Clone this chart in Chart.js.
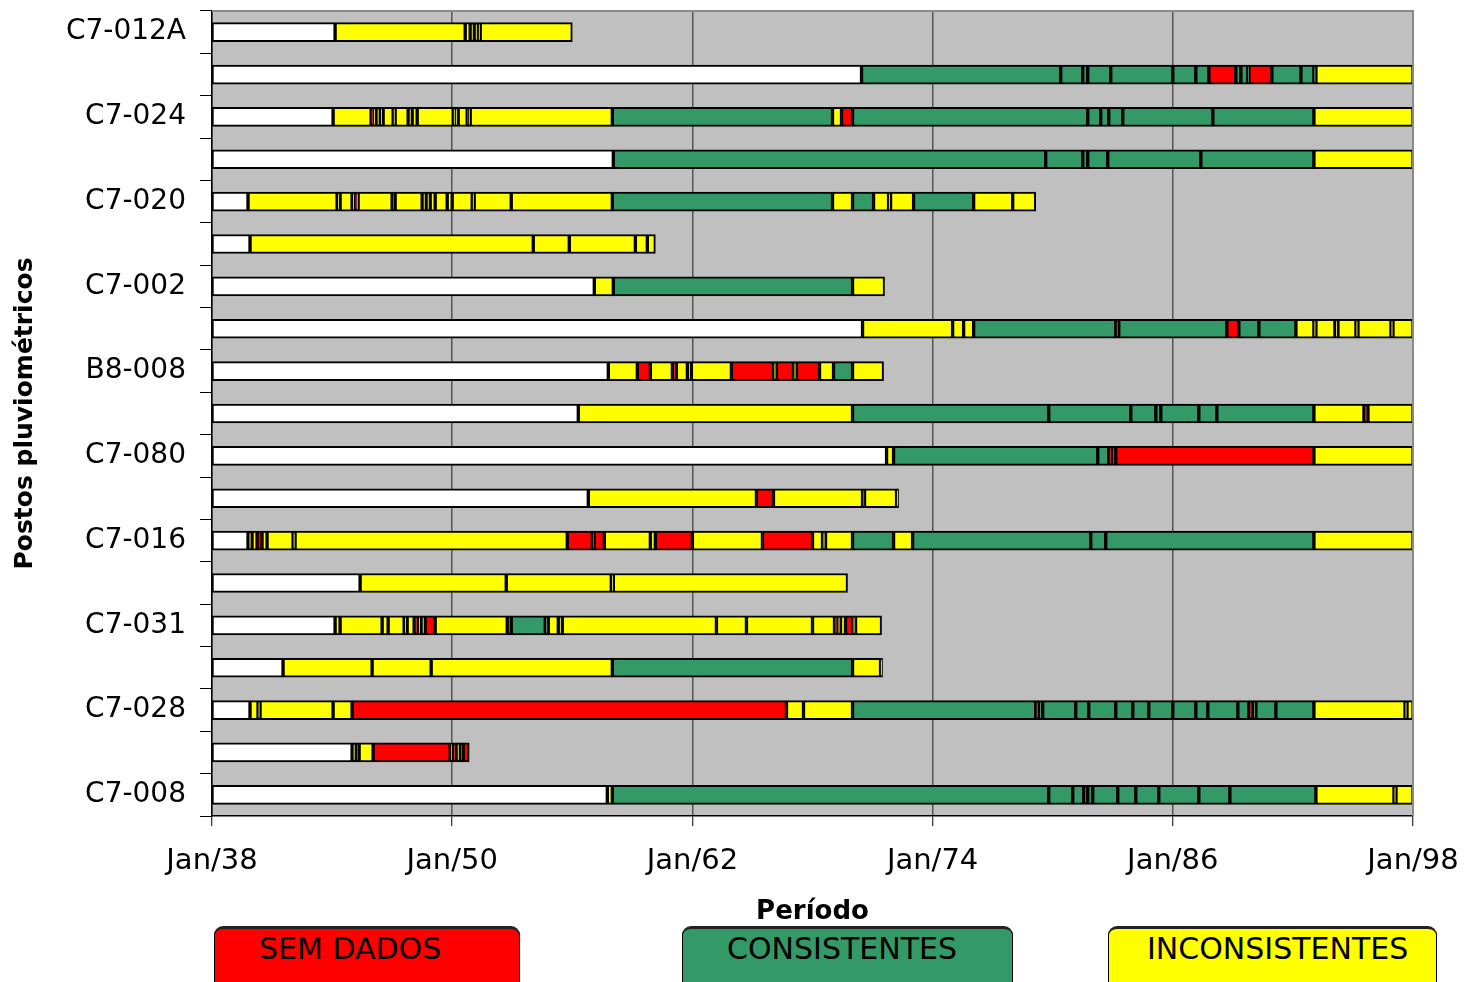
<!DOCTYPE html>
<html><head><meta charset="utf-8">
<script src="https://cdn.jsdelivr.net/npm/chart.js@4.4.0/dist/chart.umd.min.js"></script>
<style>
html,body{margin:0;padding:0;background:#fff;width:1465px;height:982px;overflow:hidden;}
#wrap{position:relative;width:1465px;height:982px;}
canvas{position:absolute;left:0;top:0;}
.lg{position:absolute;top:926px;height:80px;border:1.5px solid #000;border-top:3px solid #222;border-radius:9px;box-sizing:border-box;font-family:"DejaVu Sans";font-size:30px;color:#000;line-height:1;padding-top:5px;white-space:nowrap;}
</style></head>
<body><div id="wrap"><canvas id="c" width="1465" height="982"></canvas>
<div class="lg" style="left:214px;width:306px;background:#FF0000;padding-left:44px">SEM DADOS</div>
<div class="lg" style="left:682px;width:331px;background:#339966;padding-left:44px">CONSISTENTES</div>
<div class="lg" style="left:1108px;width:329px;background:#FFFF00;padding-left:38px">INCONSISTENTES</div>
</div>
<script>
// ---- categories / tick labels ----
const stationLabels = ['C7-012A','','C7-024','','C7-020','','C7-002','','B8-008','','C7-080','','C7-016','','C7-031','','C7-028','','C7-008'];
const xTickYears = [1938,1950,1962,1974,1986,1998];
const xTickLabels = ['Jan/38','Jan/50','Jan/62','Jan/74','Jan/86','Jan/98'];
// codes: B = sem registro (branco), S = sem dados, C = consistentes, I = inconsistentes
const row01Limits = [1938,1944.15,1950.65,1950.9,1951.1,1951.3,1951.4,1956.0];
const row01Types = 'BIIIIII';
const row02Limits = [1938,1970.45,1980.4,1981.5,1981.75,1982.9,1986.0,1987.15,1987.8,1989.15,1989.4,1989.75,1989.8,1990.95,1992.4,1993.05,1993.15,1998];
const row02Types = 'BCCCCCCCSCCCSCCCI';
const row03Limits = [1938,1944.05,1945.95,1946.05,1946.2,1946.4,1946.55,1947.05,1947.15,1947.8,1948.0,1948.25,1950.05,1950.15,1950.3,1950.75,1950.8,1950.9,1958.0,1969.0,1969.45,1970.0,1981.75,1982.4,1982.8,1983.5,1988.0,1993.05,1998];
const row03Types = 'BISIIIIIIIIIIIISIICISCCCCCCI';
const row04Limits = [1938,1958.05,1979.65,1981.5,1981.75,1982.75,1987.4,1993.05,1998];
const row04Types = 'BCCCCCCI';
const row05Limits = [1938,1939.8,1944.25,1944.4,1945.0,1945.15,1945.25,1945.3,1947.0,1947.15,1948.5,1948.7,1948.9,1949.15,1949.75,1950.0,1951.0,1951.1,1952.95,1958.0,1969.0,1970.0,1971.05,1971.8,1971.9,1973.05,1976.05,1978.0,1979.15];
const row05Types = 'BIIIISIISIIIIIIIIIICICIIICII';
const row06Limits = [1938,1939.9,1954.05,1955.85,1959.15,1959.75,1960.15];
const row06Types = 'BIIIII';
const row07Limits = [1938,1957.1,1958.05,1970.0,1971.6];
const row07Types = 'BICI';
const row08Limits = [1938,1970.5,1975.0,1975.55,1976.05,1983.15,1983.3,1988.7,1989.3,1990.3,1992.15,1993.05,1993.15,1994.1,1994.25,1995.15,1995.25,1996.9,1997.0,1998];
const row08Types = 'BIIICSCSCCIIIIIIIII';
const row09Limits = [1938,1957.8,1959.25,1959.9,1961.0,1961.2,1961.75,1961.95,1963.95,1966.05,1966.2,1967.05,1967.2,1968.35,1969.05,1970.0,1971.55];
const row09Types = 'BISISIIISISISICI';
const row10Limits = [1938,1956.3,1970.0,1979.8,1983.9,1985.15,1985.4,1987.3,1988.2,1993.05,1995.55,1995.75,1998];
const row10Types = 'BICCCCCCCISI';
const row11Limits = [1938,1971.7,1972.05,1982.25,1982.8,1982.95,1983.15,1993.05,1998];
const row11Types = 'BICCSSSI';
const row12Limits = [1938,1956.8,1965.2,1966.05,1970.5,1970.6,1972.2,1972.3];
const row12Types = 'BISISII';
const row13Limits = [1938,1939.8,1940.0,1940.25,1940.5,1940.75,1942.05,1942.15,1955.75,1957.0,1957.1,1957.6,1959.9,1960.15,1962.0,1965.5,1968.0,1968.5,1968.65,1970.0,1972.05,1973.0,1981.9,1982.65,1993.05,1998];
const row13Types = 'BIISIIIISSSIISISIIICICCCI';
const row14Limits = [1938,1945.4,1952.7,1957.95,1958.05,1969.75];
const row14Types = 'BIIII';
const row15Limits = [1938,1944.15,1944.4,1946.5,1946.8,1947.6,1947.75,1948.1,1948.3,1948.45,1948.65,1949.15,1952.75,1952.95,1954.65,1954.8,1955.3,1955.5,1963.2,1964.7,1968.0,1969.1,1969.25,1969.4,1969.65,1970.0,1970.15,1971.45];
const row15Types = 'BIIIIIISIISISCCIIIIIISIISII';
const row16Limits = [1938,1941.55,1946.0,1948.95,1958.0,1970.0,1971.4,1971.5];
const row16Types = 'BIIICII';
const row17Limits = [1938,1939.9,1940.3,1940.4,1944.05,1945.0,1966.7,1967.55,1970.0,1979.15,1979.3,1979.5,1981.15,1981.8,1983.15,1984.0,1984.8,1986.0,1987.15,1987.75,1989.25,1989.8,1990.0,1990.15,1991.15,1993.05,1997.6,1997.7,1998];
const row17Types = 'BIIIISIICSCCCCCCCCCCCSCCCIII';
const row18Limits = [1938,1945.0,1945.2,1945.35,1946.05,1949.9,1950.05,1950.2,1950.4,1950.55,1950.85];
const row18Types = 'BISISISISS';
const row19Limits = [1938,1957.75,1958.0,1979.8,1981.0,1981.55,1981.75,1982.0,1983.25,1984.15,1985.3,1987.3,1988.85,1993.15,1997.05,1997.15,1998];
const row19Types = 'BICCCSCCCCCCCIII';

const rowLimits = [row01Limits,row02Limits,row03Limits,row04Limits,row05Limits,row06Limits,row07Limits,row08Limits,row09Limits,row10Limits,row11Limits,row12Limits,row13Limits,row14Limits,row15Limits,row16Limits,row17Limits,row18Limits,row19Limits];
const rowTypes = [row01Types,row02Types,row03Types,row04Types,row05Types,row06Types,row07Types,row08Types,row09Types,row10Types,row11Types,row12Types,row13Types,row14Types,row15Types,row16Types,row17Types,row18Types,row19Types];
const typeColors = {B:'#FFFFFF', S:'#FF0000', C:'#339966', I:'#FFFF00'};

const maxSeg = Math.max(...rowTypes.map(t => t.length));
const datasets = [];
for (let k = 0; k < maxSeg; k++) {
  const data = [], colors = [];
  for (let r = 0; r < rowLimits.length; r++) {
    if (k < rowTypes[r].length) {
      data.push([rowLimits[r][k], rowLimits[r][k+1]]);
      colors.push(typeColors[rowTypes[r][k]]);
    } else { data.push(null); colors.push('rgba(0,0,0,0)'); }
  }
  datasets.push({data, backgroundColor: colors, borderColor: '#000', borderWidth: 2,
    borderSkipped: false, barThickness: 19, grouped: false});
}

const bgPlugin = {
  id: 'plotBg',
  beforeDraw(chart) {
    const {ctx, chartArea: a} = chart;
    ctx.save(); ctx.fillStyle = '#C0C0C0';
    ctx.fillRect(a.left, a.top, a.right - a.left, a.bottom - a.top);
    ctx.restore();
  },
  afterDraw(chart) {
    const {ctx, chartArea: a} = chart;
    ctx.save(); ctx.strokeStyle = '#8a8a8a'; ctx.lineWidth = 2;
    ctx.beginPath(); ctx.moveTo(a.left, a.top); ctx.lineTo(a.right, a.top); ctx.lineTo(a.right, a.bottom); ctx.stroke();
    ctx.restore();
  }
};

function zeroPad(s) { s.paddingTop = 0; s.paddingBottom = 0; s.paddingLeft = 0; s.paddingRight = 0; }

Chart.defaults.font.family = '"DejaVu Sans", sans-serif';
Chart.defaults.color = '#000';

new Chart(document.getElementById('c'), {
  type: 'bar',
  data: {labels: stationLabels, datasets},
  options: {
    indexAxis: 'y', responsive: false, animation: false,
    layout: {padding: {left: 0, right: 52, top: 11, bottom: 52}},
    plugins: {legend: {display: false}, tooltip: {enabled: false}},
    scales: {
      x: {
        type: 'linear', min: 1938, max: 1998,
        afterBuildTicks: s => { s.ticks = xTickYears.map(v => ({value: v})); },
        afterFit: s => { s.height = 114; zeroPad(s); },
        ticks: {autoSkip: false, padding: 18, font: {size: 29},
          callback: v => xTickLabels[xTickYears.indexOf(v)]},
        grid: {color: '#555', lineWidth: 1.5, tickLength: 10, tickColor: '#000', tickWidth: 1},
        border: {color: '#000', width: 1.5},
        title: {display: true, text: 'Período', font: {size: 26, weight: 'bold'}, padding: {top: 0, bottom: 2}}
      },
      y: {
        afterFit: s => { s.width = 212; zeroPad(s); },
        ticks: {autoSkip: false, padding: 14, font: {size: 28}},
        grid: {drawOnChartArea: false, offset: true, tickLength: 12, color: '#000', lineWidth: 1},
        border: {color: '#000', width: 1.5},
        title: {display: true, text: 'Postos pluviométricos', font: {size: 25, weight: 'bold'}, padding: {top: 10, bottom: 0}}
      }
    }
  },
  plugins: [bgPlugin]
});
</script>
</body></html>
